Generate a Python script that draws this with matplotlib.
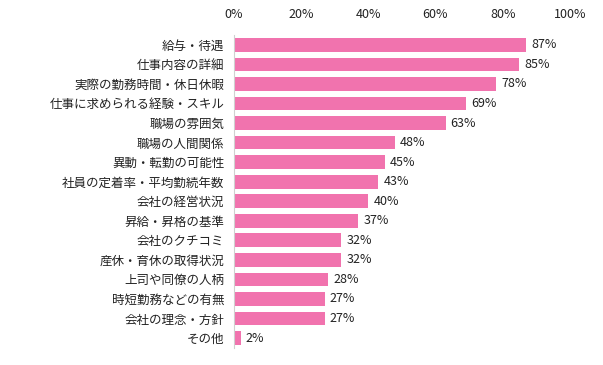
import matplotlib
matplotlib.use("Agg")
import matplotlib.pyplot as plt
from matplotlib.ticker import FuncFormatter

plt.rcParams['font.family'] = ['Noto Sans CJK JP', 'DejaVu Sans']

# data
labels = ['給与・待遇', '仕事内容の詳細', '実際の勤務時間・休日休暇', '仕事に求められる経験・スキル',
          '職場の雰囲気', '職場の人間関係', '異動・転勤の可能性', '社員の定着率・平均勤続年数',
          '会社の経営状況', '昇給・昇格の基準', '会社のクチコミ', '産休・育休の取得状況',
          '上司や同僚の人柄', '時短勤務などの有無', '会社の理念・方針', 'その他']
values = [87, 85, 78, 69, 63, 48, 45, 43, 40, 37, 32, 32, 28, 27, 27, 2]
xticks = [0, 20, 40, 60, 80, 100]

bar_color = '#F173AE'

fig = plt.figure(figsize=(6.03, 3.65), dpi=100)
ax = fig.add_axes([0.388, 0.047, 0.557, 0.857])

ypos = list(range(len(labels)))
ax.barh(ypos, values, height=0.7, color=bar_color)
for y, v in zip(ypos, values):
    ax.text(v + 1.5, y, f'{v}%', va='center', ha='left', fontsize=9, color='#222222')

ax.set_yticks(ypos)
ax.set_yticklabels(labels, fontsize=9, color='#222222')
ax.set_ylim(len(labels) - 0.5, -0.5)
ax.set_xlim(0, 100)
ax.set_xticks(xticks)
ax.xaxis.set_major_formatter(FuncFormatter(lambda x, p: f'{int(x)}%'))
ax.xaxis.tick_top()
ax.tick_params(axis='x', length=0, labelsize=9, pad=10, labelcolor='#222222')
ax.tick_params(axis='y', length=0, pad=7)

for side in ['top', 'right', 'bottom']:
    ax.spines[side].set_visible(False)
ax.spines['left'].set_color('#D0D0D0')

fig.savefig('out.png', dpi=100)
